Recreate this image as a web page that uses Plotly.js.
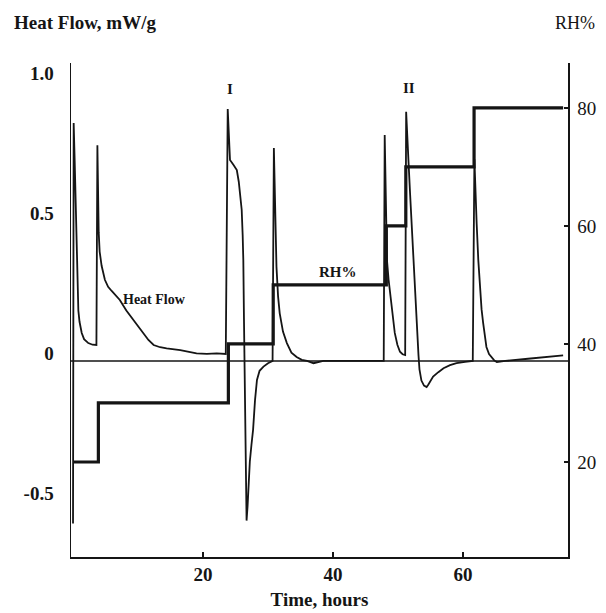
<!DOCTYPE html>
<html>
<head>
<meta charset="utf-8">
<script src="https://cdn.plot.ly/plotly-3.0.1.min.js"></script>
<style>html,body{margin:0;padding:0;background:#fff;}#chart{width:606px;height:613px;}</style>
</head>
<body>
<div id="chart"></div>
<script>
// Heat flow trace (time in hours, heat flow in mW/g)
const hfTime = [0, 0.1, 0.25, 0.4, 0.5, 0.6, 0.7, 0.82, 1.0, 1.15, 1.34, 1.7, 2.35, 3.0, 3.6,
  3.75, 3.85, 3.95, 4.1, 4.4, 4.9, 5.4, 5.95, 6.5, 7.2, 8.2, 9.3, 10.0, 10.8, 11.6, 12.4, 13.4, 14.4, 16.5, 19.0, 20.6, 22.1, 23.5,
  23.8, 24.0, 24.15, 24.7, 25.2, 25.5, 25.7, 25.95, 26.1, 26.2, 26.3, 26.4, 26.55, 26.7, 26.85, 27.0, 27.2, 27.45, 27.7, 28.0, 28.3, 28.7, 29.3, 30.0, 30.7,
  30.9, 31.05, 31.3, 31.55, 31.8, 32.3, 32.9, 33.6, 34.4, 35.2, 36.0, 37.0, 38.5, 42.0, 45.0, 47.8,
  47.95, 48.1, 48.3, 48.55, 48.8, 49.15, 49.5, 49.9, 50.3, 50.7, 51.1,
  51.25, 51.4, 51.6, 51.85, 52.1, 52.35, 52.6, 52.8, 53.0, 53.15, 53.3, 53.6, 54.0, 54.4, 54.65, 54.9, 55.4, 56.2, 57.0, 58.0, 59.0, 60.3, 61.5,
  61.75, 61.9, 62.1, 62.35, 62.6, 62.85, 63.1, 63.35, 63.6, 64.0, 64.4, 64.8, 65.2, 66.5, 70.0, 73.0, 75.4];
const heatFlow = [-0.58, 0.85, 0.72, 0.55, 0.42, 0.32, 0.24, 0.18, 0.14, 0.115, 0.1, 0.078, 0.064, 0.058, 0.057,
  0.77, 0.6, 0.46, 0.39, 0.34, 0.29, 0.265, 0.25, 0.235, 0.218, 0.18, 0.146, 0.122, 0.099, 0.075, 0.057, 0.049, 0.045, 0.039, 0.027, 0.025, 0.027, 0.025,
  0.9, 0.76, 0.718, 0.7, 0.682, 0.64, 0.6, 0.54, 0.45, 0.36, 0.15, -0.1, -0.35, -0.57, -0.52, -0.45, -0.36, -0.3, -0.246, -0.14, -0.068, -0.035, -0.02, -0.008, 0.0,
  0.76, 0.55, 0.336, 0.23, 0.17, 0.105, 0.064, 0.03, 0.014, 0.004, 0.0, -0.008, 0.0, 0.0, 0.0, 0.0,
  0.807, 0.55, 0.36, 0.29, 0.24, 0.16, 0.1, 0.058, 0.033, 0.024, 0.021,
  0.89, 0.8, 0.718, 0.6, 0.48, 0.36, 0.243, 0.15, 0.08, 0.02, -0.03, -0.07, -0.088, -0.093, -0.085, -0.075, -0.056, -0.04, -0.026, -0.015, -0.008, -0.003, 0.0,
  0.72, 0.6, 0.49, 0.36, 0.25, 0.185, 0.135, 0.09, 0.05, 0.025, 0.014, 0.002, -0.004, 0.0, 0.008, 0.014, 0.02];

// Relative humidity steps (%RH)
const rhTime = [0, 3.9, 23.9, 30.8, 48.2, 51.2, 61.7, 75.4];
const rhValue = [20, 30, 40, 50, 60, 70, 80, 80];

// Axis tick labels
const hfTicks = [-0.5, 0, 0.5, 1.0];
const hfTickText = ['-0.5', '0', '0.5', '1.0'];
const rhTicks = [20, 40, 60, 80];
const timeTicks = [20, 40, 60];

const ink = '#151515';
const serif = 'Liberation Serif, Times New Roman, serif';

const traces = [
  {x: hfTime, y: heatFlow, type: 'scatter', mode: 'lines', line: {color: ink, width: 1.8}, hoverinfo: 'skip', showlegend: false},
  {x: rhTime, y: rhValue, type: 'scatter', mode: 'lines', line: {color: ink, width: 3.2, shape: 'hv'}, yaxis: 'y2', hoverinfo: 'skip', showlegend: false}
];

const layout = {
  width: 606, height: 613,
  margin: {l: 71, r: 38, t: 63, b: 56},
  paper_bgcolor: '#fff', plot_bgcolor: '#fff',
  showlegend: false,
  font: {family: serif, color: ink, size: 19},
  xaxis: {
    range: [-0.31, 76.15], showgrid: false, zeroline: false,
    showline: true, linecolor: ink, linewidth: 1.5,
    tickvals: timeTicks, ticks: 'inside', ticklen: 5, tickcolor: ink, tickwidth: 1.5,
    tickfont: {family: serif, size: 19, color: ink, weight: 'bold'},
    title: {text: 'Time, hours', font: {family: serif, size: 19, color: ink, weight: 'bold'}, standoff: 8}
  },
  yaxis: {
    range: [-0.7, 1.064], showgrid: false, zeroline: false,
    showline: true, linecolor: ink, linewidth: 1.5,
    tickvals: hfTicks, ticktext: hfTickText, ticks: '',
    ticklabelshift: -8, ticklabelstandoff: 12,
    tickfont: {family: serif, size: 19, color: ink, weight: 'bold'}
  },
  yaxis2: {
    range: [3.9, 87.6], overlaying: 'y', side: 'right', showgrid: false, zeroline: false,
    showline: true, linecolor: ink, linewidth: 1.5,
    tickvals: rhTicks, ticks: 'inside', ticklen: 4, tickcolor: ink, tickwidth: 1.5,
    ticklabelstandoff: 4,
    tickfont: {family: serif, size: 19, color: ink}
  },
  shapes: [
    {type: 'line', xref: 'paper', x0: 0, x1: 1, yref: 'y', y0: 0, y1: 0, line: {color: ink, width: 1.5}}
  ],
  annotations: [
    {text: 'Heat Flow, mW/g', xref: 'paper', yref: 'paper', x: -0.119, y: 1.081, xanchor: 'left', yanchor: 'middle', showarrow: false,
     font: {family: serif, size: 19, color: ink, weight: 'bold'}},
    {text: 'RH%', xref: 'paper', yref: 'paper', x: 1.058, y: 1.081, xanchor: 'right', yanchor: 'middle', showarrow: false,
     font: {family: serif, size: 18, color: ink}},
    {text: 'Heat Flow', xref: 'x', yref: 'y', x: 12.6, y: 0.218, xanchor: 'center', yanchor: 'middle', showarrow: false,
     font: {family: serif, size: 14, color: ink, weight: 'bold'}},
    {text: 'RH%', xref: 'x', yref: 'y2', x: 40.8, y: 50.5, xanchor: 'center', yanchor: 'bottom', showarrow: false,
     font: {family: serif, size: 15, color: ink, weight: 'bold'}},
    {text: 'I', xref: 'x', yref: 'y', x: 24.2, y: 0.97, xanchor: 'center', yanchor: 'middle', showarrow: false,
     font: {family: serif, size: 15, color: ink, weight: 'bold'}},
    {text: 'II', xref: 'x', yref: 'y', x: 51.7, y: 0.975, xanchor: 'center', yanchor: 'middle', showarrow: false,
     font: {family: serif, size: 15, color: ink, weight: 'bold'}}
  ]
};

Plotly.newPlot('chart', traces, layout, {staticPlot: true, displayModeBar: false});
</script>
</body>
</html>
